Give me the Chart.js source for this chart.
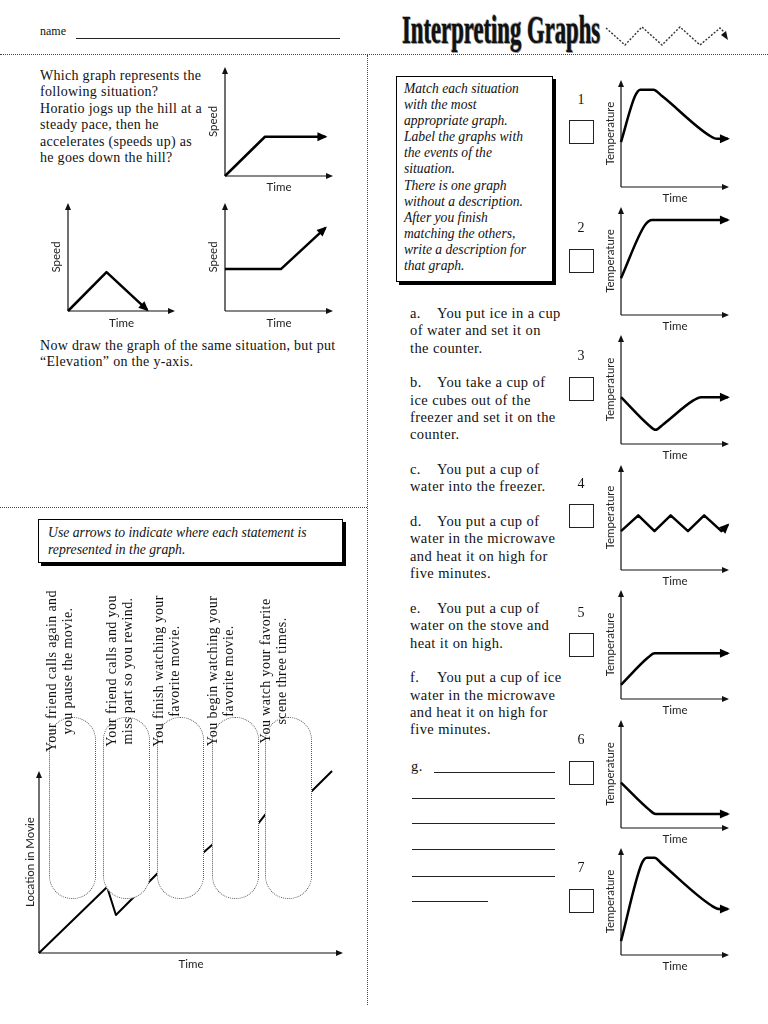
<!DOCTYPE html>
<html>
<head>
<meta charset="utf-8">
<script src="https://cdn.jsdelivr.net/npm/chart.js@4.4.0/dist/chart.umd.min.js"></script>
<style>
body { margin: 0; background: #fff; }
#page { position: relative; width: 768px; height: 1024px; overflow: hidden; font-family: "Liberation Serif", serif; color: #111; }
.abs { position: absolute; white-space: nowrap; }
canvas { position: absolute; }
.q { font-size: 14px; letter-spacing: 0.3px; line-height: 16.4px; }
.box { position: absolute; border: 1px solid #000; box-shadow: 3px 3px 0 #000; background: #fff; }
.it { font-style: italic; font-size: 13.6px; line-height: 16.1px; }
.items { font-size: 14.5px; letter-spacing: 0.4px; line-height: 17.35px; }
.items p { margin: 0 0 17.35px 0; }
.items b { font-weight: normal; display: inline-block; width: 27px; }
.num { font-size: 14px; width: 20px; text-align: center; }
.chk { position: absolute; width: 23px; height: 22px; border: 1px solid #222; }
.rule { position: absolute; height: 0; border-top: 1px solid #222; }
.pill { position: absolute; width: 45px; height: 180px; border: 1px dotted #555; border-radius: 23px; background: #fff; }
.stmt { position: absolute; width: 200px; height: 32px; font-size: 14px; letter-spacing: 0.4px; line-height: 16px; text-align: center; white-space: nowrap; transform: rotate(-90deg); }
</style>
</head>
<body>
<div id="page">
  <!-- header -->
  <div class="abs" style="left:40px;top:24px;font-size:12px;">name</div>
  <div class="rule" style="left:76px;top:38px;width:264px;"></div>
  <div id="title" class="abs" style="left:402px;top:6px;font-size:40px;font-weight:bold;transform-origin:0 0;text-shadow:0 0 1px #777,1px 1px 0 #999,-1px -1px 0 #bbb;">Interpreting Graphs</div>
  <svg class="abs" style="left:600px;top:20px;" width="140" height="34">
    <polyline points="6,8 25,25 42,7 62,25 80,7 100,25 120,8 124,12" fill="none" stroke="#333" stroke-width="1.4" stroke-dasharray="2 1.6"/>
    <polygon points="128,20 121,15 126,11" fill="#111"/>
  </svg>
  <div class="abs" style="left:0;top:54px;width:768px;border-top:1px dotted #444;"></div>
  <div class="abs" style="left:367px;top:55px;height:950px;border-left:1px dotted #444;"></div>
  <div class="abs" style="left:0;top:507px;width:367px;border-top:1px dotted #444;"></div>

  <!-- top-left question -->
  <div class="abs q" style="left:40px;top:68px;">Which graph represents the<br>following situation?<br>Horatio jogs up the hill at a<br>steady pace, then he<br>accelerates (speeds up) as<br>he goes down the hill?</div>
  <div class="abs q" style="left:40px;top:338px;">Now draw the graph of the same situation, but put<br>“Elevation” on the y-axis.</div>

  <!-- right column instructions -->
  <div class="box" style="left:396px;top:76px;width:155px;height:204px;"></div>
  <div class="abs it" style="left:404px;top:81px;">Match each situation<br>with the most<br>appropriate graph.<br>Label the graphs with<br>the events of the<br>situation.<br>There is one graph<br>without a description.<br>After you finish<br>matching the others,<br>write a description for<br>that graph.</div>

  <div class="abs items" style="left:410px;top:305px;">
    <p><b>a.</b>You put ice in a cup<br>of water and set it on<br>the counter.</p>
    <p><b>b.</b>You take a cup of<br>ice cubes out of the<br>freezer and set it on the<br>counter.</p>
    <p><b>c.</b>You put a cup of<br>water into the freezer.</p>
    <p><b>d.</b>You put a cup of<br>water in the microwave<br>and heat it on high for<br>five minutes.</p>
    <p><b>e.</b>You put a cup of<br>water on the stove and<br>heat it on high.</p>
    <p><b>f.</b>You put a cup of ice<br>water in the microwave<br>and heat it on high for<br>five minutes.</p>
  </div>
  <div class="abs items" style="left:411px;top:758px;">g.</div>
  <div class="rule" style="left:434px;top:772px;width:121px;"></div>
  <div class="rule" style="left:412px;top:798px;width:143px;"></div>
  <div class="rule" style="left:412px;top:823px;width:143px;"></div>
  <div class="rule" style="left:412px;top:849px;width:143px;"></div>
  <div class="rule" style="left:412px;top:876px;width:143px;"></div>
  <div class="rule" style="left:412px;top:901px;width:76px;"></div>

  <!-- bottom-left instructions -->
  <div class="box" style="left:38px;top:519px;width:303px;height:42px;"></div>
  <div class="abs it" style="left:48px;top:524px;font-size:13.7px;line-height:17px;">Use arrows to indicate where each statement is<br>represented in the graph.</div>
</div>

<script>
// ---- data ----
// speed graphs (time, speed)
const speedA_t = [0, 3.7, 9.3];
const speedA_v = [0, 3.6, 3.6];
const speedB_t = [0, 3.6, 7.4];
const speedB_v = [0, 3.6, 0.1];
const speedC_t = [0, 5.2, 9.3];
const speedC_v = [3.9, 3.9, 7.7];

// temperature graphs 1-7 (time, temperature)
const temp1_t = [0, 1.3, 1.8, 3.0, 3.8, 8.2, 8.9, 9.9];
const temp1_v = [4.2, 8.5, 9.1, 9.1, 8.5, 4.8, 4.5, 4.5];
const temp2_t = [0, 2.2, 2.9, 9.9];
const temp2_v = [3.4, 8.3, 8.8, 8.8];
const temp3_t = [0, 2.6, 3.2, 3.9, 6.7, 7.4, 9.9];
const temp3_v = [4.3, 1.7, 1.3, 1.8, 4.0, 4.3, 4.3];
const temp4_t = [0, 1.6, 3.1, 4.6, 6.2, 7.7, 9.3, 9.9];
const temp4_v = [3.7, 5.2, 3.7, 5.2, 3.7, 5.2, 3.7, 4.3];
const temp5_t = [0, 2.5, 3.1, 9.9];
const temp5_v = [1.3, 3.8, 4.2, 4.2];
const temp6_t = [0, 2.6, 3.2, 9.9];
const temp6_v = [4.2, 1.7, 1.3, 1.3];
const temp7_t = [0, 1.9, 2.4, 3.1, 3.8, 8.4, 9.1, 9.9];
const temp7_v = [1.3, 8.5, 9.1, 9.1, 8.5, 4.6, 4.3, 4.3];

// movie graph (time, location in movie)
const movieTime = [0, 22.4, 25.3, 39.1, 41.4, 49.3, 53.9, 56.9, 60.2, 61.5, 64.8, 66.1, 71.7, 74.3, 77.3, 84.9, 89.1, 96.4];
const movieLoc  = [0, 36.3, 20.9, 44.0, 47.8, 47.8, 54.9, 59.3, 64.8, 60.4, 65.9, 61.0, 70.3, 75.8, 80.8, 80.8, 87.9, 100];

const statements = [
  ['Your friend calls again and', 'you pause the movie.'],
  ['Your friend calls and you', 'miss part so you rewind.'],
  ['You finish watching your', 'favorite movie.'],
  ['You begin watching your', 'favorite movie.'],
  ['You watch your favorite', 'scene three times.']
];

// ---- drawing ----
const page = document.getElementById('page');
Chart.defaults.font.family = 'Lato';
Chart.defaults.font.size = 11.5;
Chart.defaults.color = '#222';

function arrowHead(ctx, x, y, ang, len, half) {
  const c = Math.cos(ang), s = Math.sin(ang);
  ctx.beginPath();
  ctx.moveTo(x, y);
  ctx.lineTo(x - len * c + half * s, y - len * s - half * c);
  ctx.lineTo(x - len * c - half * s, y - len * s + half * c);
  ctx.closePath();
  ctx.fill();
}

const arrows = {
  id: 'arrows',
  beforeDatasetsDraw(chart) {
    const { ctx, chartArea: a } = chart;
    ctx.save();
    ctx.strokeStyle = '#111';
    ctx.fillStyle = '#111';
    ctx.lineWidth = 1.2;
    ctx.beginPath();
    ctx.moveTo(a.left, a.bottom); ctx.lineTo(a.left, a.top + 5);
    ctx.moveTo(a.left, a.bottom); ctx.lineTo(a.right - 5, a.bottom);
    ctx.stroke();
    arrowHead(ctx, a.left, a.top, -Math.PI / 2, 7, 3);
    arrowHead(ctx, a.right, a.bottom, 0, 7, 3);
    ctx.restore();
  },
  afterDatasetsDraw(chart, args, opts) {
    if (!opts.lineEnd) return;
    const pts = chart.getDatasetMeta(0).data;
    const p = pts[pts.length - 1], q = pts[pts.length - 2];
    const ang = Math.atan2(p.y - q.y, p.x - q.x);
    const ctx = chart.ctx;
    ctx.save();
    ctx.fillStyle = '#000';
    arrowHead(ctx, p.x + 2 * Math.cos(ang), p.y + 2 * Math.sin(ang), ang, 10, 4.5);
    ctx.restore();
  }
};

// area = axis box in page pixels; yOff/xOff = distance of axis title centre from the axis
function graph(area, t, v, o) {
  const lh = 11.5 * 1.2;
  const padL = Math.round(o.yOff + lh / 2), padB = Math.round(o.xOff + lh / 2);
  const padT = 4, padR = 4;
  const cv = document.createElement('canvas');
  cv.width = area.right - area.left + padL + padR;
  cv.height = area.bottom - area.top + padT + padB;
  cv.style.left = (area.left - padL) + 'px';
  cv.style.top = (area.top - padT) + 'px';
  page.appendChild(cv);
  new Chart(cv, {
    type: 'line',
    data: {
      datasets: [{
        data: t.map((x, i) => ({ x: x, y: v[i] })),
        borderColor: '#000',
        borderWidth: o.width || 2.5,
        borderCapStyle: 'butt',
        borderJoinStyle: 'round',
        pointRadius: 0,
        cubicInterpolationMode: o.smooth ? 'monotone' : 'default',
        tension: 0,
        clip: false
      }]
    },
    options: {
      responsive: false,
      animation: false,
      events: [],
      layout: { padding: { top: padT, right: padR, left: 0, bottom: 0 } },
      scales: {
        x: {
          type: 'linear', min: 0, max: o.max || 10,
          grid: { display: false }, border: { display: false }, ticks: { display: false },
          title: { display: true, text: 'Time', padding: 0 },
          afterFit: s => { s.height = padB; }
        },
        y: {
          type: 'linear', min: 0, max: o.max || 10,
          grid: { display: false }, border: { display: false }, ticks: { display: false },
          title: { display: true, text: o.yTitle, padding: 0 },
          afterFit: s => { s.width = padL; }
        }
      },
      plugins: {
        legend: { display: false },
        tooltip: { enabled: false },
        arrows: { lineEnd: o.lineEnd !== false }
      }
    },
    plugins: [arrows]
  });
}

// speed graphs
graph({ left: 225, top: 67, right: 333, bottom: 176 }, speedA_t, speedA_v, { yTitle: 'Speed', yOff: 12, xOff: 11 });
graph({ left: 68, top: 203, right: 175, bottom: 311 }, speedB_t, speedB_v, { yTitle: 'Speed', yOff: 12, xOff: 12 });
graph({ left: 225, top: 203, right: 333, bottom: 311 }, speedC_t, speedC_v, { yTitle: 'Speed', yOff: 12, xOff: 12 });

// temperature graphs
const tempT = [temp1_t, temp2_t, temp3_t, temp4_t, temp5_t, temp6_t, temp7_t];
const tempV = [temp1_v, temp2_v, temp3_v, temp4_v, temp5_v, temp6_v, temp7_v];
const tops = [80, 207, 335, 465, 590, 720, 848];
const bottoms = [187, 315, 444, 570, 699, 828, 955];
const numY = [92, 220, 348, 476, 605, 732, 860];
const boxY = [120, 249, 377, 504, 633, 761, 889];
tempT.forEach((t, i) => {
  graph({ left: 621, top: tops[i], right: 729, bottom: bottoms[i] }, t, tempV[i],
    { yTitle: 'Temperature', yOff: 11, xOff: 11, smooth: i !== 3 });
  const n = document.createElement('div');
  n.className = 'abs num';
  n.style.left = '571px'; n.style.top = numY[i] + 'px';
  n.textContent = String(i + 1);
  page.appendChild(n);
  const b = document.createElement('div');
  b.className = 'chk';
  b.style.left = '569px'; b.style.top = boxY[i] + 'px';
  page.appendChild(b);
});

// movie graph
graph({ left: 39, top: 771, right: 343, bottom: 953 }, movieTime, movieLoc,
  { yTitle: 'Location in Movie', yOff: 9, xOff: 11, max: 100, width: 2, lineEnd: false });

const pillX = [49, 103, 157, 212, 265];
pillX.forEach(x => {
  const p = document.createElement('div');
  p.className = 'pill';
  p.style.left = x + 'px'; p.style.top = '717px';
  page.appendChild(p);
});
const stmtX = [60, 120, 167, 221, 274];
statements.forEach((s, i) => {
  const d = document.createElement('div');
  d.className = 'stmt';
  d.style.left = (stmtX[i] - 100) + 'px';
  d.style.top = (671 - 16) + 'px';
  d.innerHTML = s[0] + '<br>' + s[1];
  page.appendChild(d);
});

// squeeze the title to the condensed width of the original
const title = document.getElementById('title');
title.style.transform = 'scaleX(' + (198 / title.offsetWidth) + ')';
</script>
</body>
</html>
